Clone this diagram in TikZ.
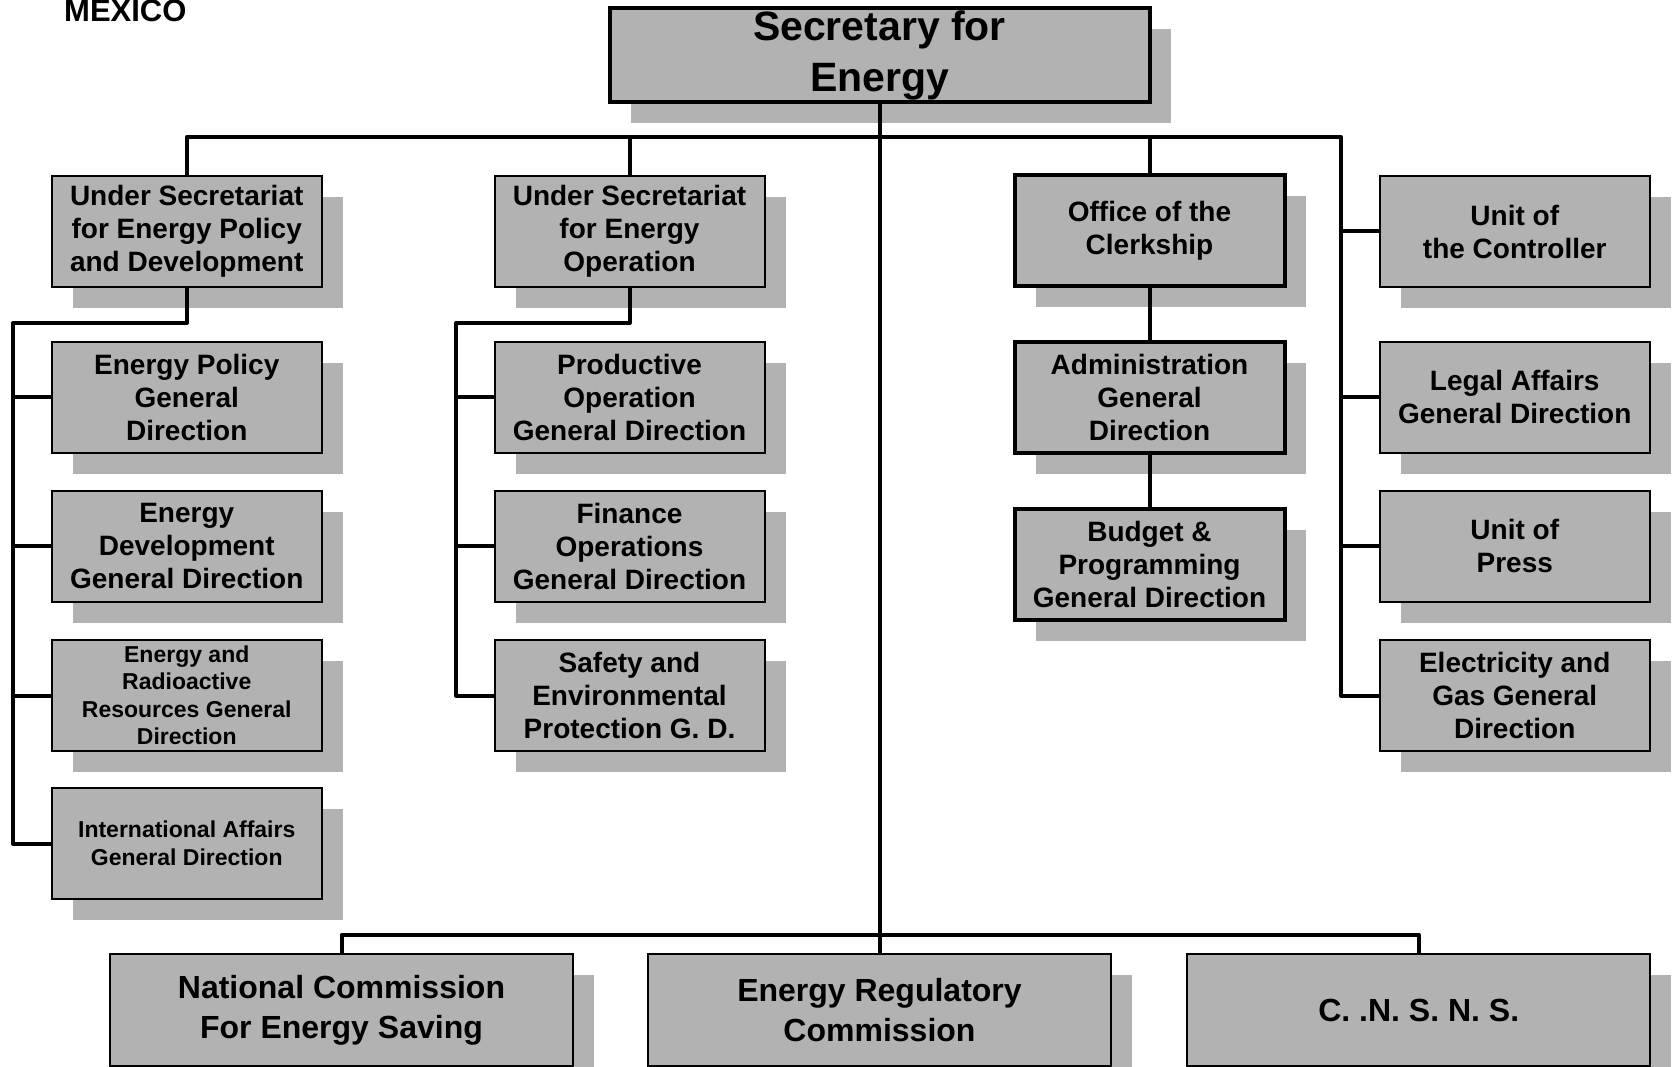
\documentclass[tikz,border=0pt]{standalone}
\usepackage{fontspec}
\setmainfont{Liberation Sans}
\usetikzlibrary{shadows}

\definecolor{boxgray}{RGB}{178,178,178}

\tikzset{
  orgbox/.style={draw=black, line width=2pt, fill=boxgray, inner sep=0pt,
    align=center, minimum width=270pt, minimum height=111pt,
    font=\bfseries\fontsize{28}{33}\selectfont,
    general shadow={shadow xshift=21pt, shadow yshift=-21pt, fill=boxgray}},
  headbox/.style={orgbox, line width=4pt},
  smallbox/.style={orgbox, font=\bfseries\fontsize{23}{27.5}\selectfont},
  secbox/.style={headbox, minimum width=540pt, minimum height=94pt,
    font=\bfseries\fontsize{41}{51}\selectfont},
  combox/.style={orgbox, minimum width=463pt, minimum height=112pt,
    font=\bfseries\fontsize{32}{40}\selectfont},
  link/.style={line width=4pt, line join=round}
}

\begin{document}
\begin{tikzpicture}[x=1pt,y=-1pt]
  \useasboundingbox (0,0) rectangle (1672,1067);

  \node[anchor=base west, inner sep=0pt, font=\bfseries\fontsize{31}{36}\selectfont]
    (country) at (64,22) {MEXICO};

  % Secretary
  \node[secbox] (sec) at (879.5,55.5) {Secretary for\\Energy};

  % Policy column
  \node[orgbox] (usp) at (186.75,231.5) {Under Secretariat\\for Energy Policy\\and Development};
  \node[orgbox] (epgd) at (186.75,397) {Energy Policy\\General\\Direction};
  \node[orgbox] (edgd) at (186.75,546) {Energy\\Development\\General Direction};
  \node[smallbox] (ergd) at (186.75,695.5) {Energy and\\Radioactive\\Resources General\\Direction};
  \node[smallbox] (intl) at (186.75,843.5) {International Affairs\\General Direction};

  % Operation column
  \node[orgbox] (uso) at (629.5,231.5) {Under Secretariat\\for Energy\\Operation};
  \node[orgbox] (popgd) at (629.5,397) {Productive\\Operation\\General Direction};
  \node[orgbox] (fopgd) at (629.5,546) {Finance\\Operations\\General Direction};
  \node[orgbox] (sepgd) at (629.5,695.5) {Safety and\\Environmental\\Protection G. D.};

  % Clerkship column
  \node[headbox] (clerk) at (1149.5,230.5) {Office of the\\Clerkship};
  \node[headbox] (admin) at (1149.5,397) {Administration\\General\\Direction};
  \node[headbox] (budget) at (1149.5,564) {Budget \&\\Programming\\General Direction};

  % Units on the right
  \node[orgbox] (ctl) at (1514.75,231.5) {Unit of\\the Controller};
  \node[orgbox] (legal) at (1514.75,397) {Legal Affairs\\General Direction};
  \node[orgbox] (press) at (1514.75,546) {Unit of\\Press};
  \node[orgbox] (egg) at (1514.75,695.5) {Electricity and\\Gas General\\Direction};

  % Commissions
  \node[combox] (ncs) at (341.5,1010) {National Commission\\For Energy Saving};
  \node[combox] (erc) at (879.5,1010) {Energy Regulatory\\Commission};
  \node[combox] (cnsns) at (1418.75,1010) {C. .N. S. N. S.};

  % Bus corners
  \coordinate (barR) at (1341,137);
  \coordinate (barB) at (879.5,935);
  \coordinate (busP) at (13,323);
  \coordinate (busO) at (456,323);

  % Main lines
  \draw[link] (sec.south) -- (erc.north);
  \draw[link] (usp.north) |- (barR) |- (egg.west);
  \draw[link] (uso.north) -- (uso.north |- barR);
  \draw[link] (clerk.north) -- (clerk.north |- barR);
  \draw[link] (ncs.north) |- (cnsns.north |- barB) -- (cnsns.north);

  % Branches
  \draw[link] (usp.south) |- (busP) |- (intl.west);
  \foreach \n in {epgd,edgd,ergd}
    \draw[link] (busP |- \n.west) -- (\n.west);
  \draw[link] (uso.south) |- (busO) |- (sepgd.west);
  \foreach \n in {popgd,fopgd}
    \draw[link] (busO |- \n.west) -- (\n.west);
  \draw[link] (clerk.south) -- (admin.north) (admin.south) -- (budget.north);
  \foreach \n in {ctl,legal,press}
    \draw[link] (barR |- \n.west) -- (\n.west);
\end{tikzpicture}
\end{document}
